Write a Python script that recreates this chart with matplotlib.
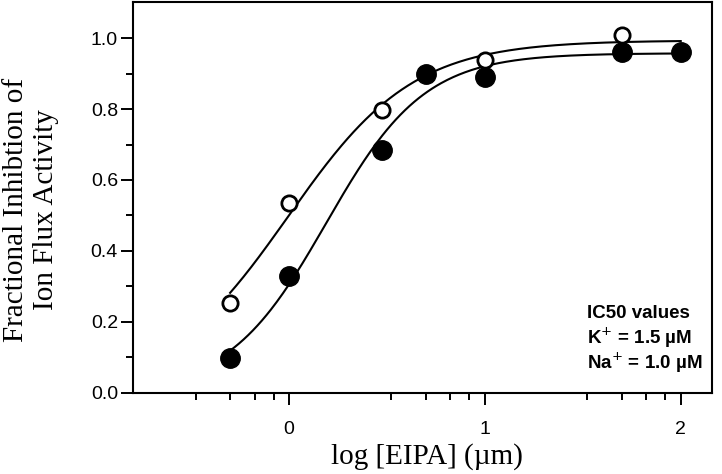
import numpy as np
import matplotlib
matplotlib.use("Agg")
import matplotlib.pyplot as plt
from matplotlib.ticker import FixedLocator

# data (x = log[EIPA])
x_filled = [-0.301, 0.0, 0.477, 0.699, 1.0, 1.699, 2.0]
y_filled = [0.097, 0.330, 0.685, 0.900, 0.890, 0.960, 0.960]
x_open = [-0.301, 0.0, 0.477, 1.0, 1.699]
y_open = [0.254, 0.534, 0.797, 0.938, 1.008]

ic50_lines = ["IC50 values", "K$^{+}$ = 1.5 \u00b5M", "Na$^{+}$ = 1.0 \u00b5M"]


# 3 parameter logistic (bottom = 0), grid search on midpoint/slope, top solved linearly
def fit_logistic(x, y):
    x = np.asarray(x)
    y = np.asarray(y)
    x0 = np.linspace(-0.6, 1.0, 321)[:, None, None]
    h = np.linspace(0.3, 4.0, 371)[None, :, None]
    f = 1.0 / (1.0 + 10 ** ((x0 - x) * h))
    top = (f * y).sum(axis=2) / (f * f).sum(axis=2)
    err = ((top[..., None] * f - y) ** 2).sum(axis=2)
    i, j = np.unravel_index(np.argmin(err), err.shape)
    m, s, t = x0[i, 0, 0], h[0, j, 0], top[i, j]
    return lambda u: t / (1.0 + 10 ** ((m - u) * s))


fig = plt.figure(figsize=(7.22, 4.74), dpi=100)
ax = fig.add_axes([0.1842, 0.1715, 0.8015, 0.8243])

xs = np.linspace(-0.301, 2.0, 300)
ax.plot(xs, fit_logistic(x_filled, y_filled)(xs), color="black", lw=1.5, zorder=2)
ax.plot(xs, fit_logistic(x_open, y_open)(xs), color="black", lw=1.5, zorder=2)

ax.plot(x_filled, y_filled, "o", color="black", ms=14, mew=1, zorder=3)
ax.plot(x_open, y_open, "o", mfc="white", mec="black", ms=11, mew=2, zorder=4)

ax.set_xlim(-0.797, 2.158)
ax.set_ylim(0, 1.102)

ax.set_xticks([0, 1, 2])
ax.set_xticklabels(["0", "1", "2"])
minor_x = [np.log10(k / 6 * 10 ** (n + 1)) for n in (-1, 0, 1) for k in (2, 3, 4, 5)]
ax.xaxis.set_minor_locator(FixedLocator(minor_x))
ax.set_yticks([0.0, 0.2, 0.4, 0.6, 0.8, 1.0])
ax.set_yticklabels(["0.0", "0.2", "0.4", "0.6", "0.8", "1.0"])
ax.yaxis.set_minor_locator(FixedLocator([0.1, 0.3, 0.5, 0.7, 0.9]))

ax.tick_params(which="major", direction="out", length=8.6, width=1.4,
               labelsize=14, top=False, right=False)
ax.tick_params(axis="y", which="major", pad=2.2)
ax.tick_params(axis="x", which="major", pad=12)
ax.tick_params(which="minor", direction="out", length=5, width=1.4,
               top=False, right=False)
for lab in ax.get_xticklabels() + ax.get_yticklabels():
    lab.set_family("Liberation Sans")
for s in ax.spines.values():
    s.set_linewidth(1.5)

ax.set_xlabel("log [EIPA] (\u00b5m)", family="Liberation Serif", fontsize=21)
ax.xaxis.set_label_coords(0.508, -0.128)
ax.set_ylabel("Fractional Inhibtion of\nIon Flux Activity", family="Liberation Serif",
              fontsize=21, linespacing=1.22)
ax.yaxis.set_label_coords(-0.128, 0.468)

for i, line in enumerate(ic50_lines):
    fig.text(587 / 722, 1 - (313 + 25 * i) / 474, line, fontsize=13.5, fontweight="bold",
             family="Liberation Sans", va="center", ha="left")

fig.savefig("out.png", dpi=100)
